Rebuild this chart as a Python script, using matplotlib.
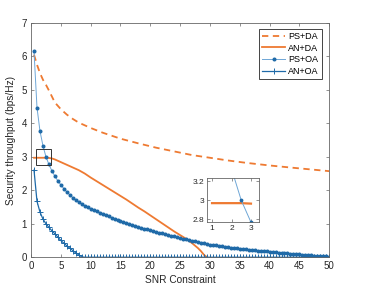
import numpy as np
import matplotlib
matplotlib.use('Agg')
import matplotlib.pyplot as plt
from matplotlib.patches import Rectangle

# ─── Data ─────────────────────────────────────────────────────────────────────

snr_grid = np.arange(1, 101) * 0.5   # 0.5 ... 50

ps_da_x = [0.5, 1, 1.5, 2, 2.5, 3, 4, 5, 6, 7, 8, 10, 12, 15, 18, 21, 24,
           27, 30, 33, 36, 40, 44, 47, 50]
ps_da_y = [6.05, 5.75, 5.50, 5.30, 5.15, 4.98, 4.62, 4.42, 4.26, 4.13, 4.02,
           3.86, 3.72, 3.54, 3.40, 3.27, 3.16, 3.05, 2.97, 2.89, 2.82, 2.74,
           2.67, 2.62, 2.57]

an_da_x = [0.5, 1, 1.5, 2, 2.5, 3, 3.5, 4, 5, 6, 7, 8, 9, 10, 11, 12, 13, 14,
           15, 16, 17, 18, 19, 20, 21, 22, 23, 24, 25, 26, 27, 28, 28.5, 29,
           29.5]
an_da_y = [2.97, 2.97, 2.97, 2.97, 2.97, 2.965, 2.95, 2.92, 2.84, 2.76, 2.68,
           2.60, 2.50, 2.38, 2.27, 2.16, 2.05, 1.94, 1.83, 1.72, 1.60, 1.48,
           1.37, 1.25, 1.13, 1.01, 0.89, 0.77, 0.66, 0.55, 0.42, 0.27, 0.18,
           0.07, 0.0]

ps_oa_y = [6.15, 4.47, 3.77, 3.33, 3.00, 2.77, 2.58, 2.42, 2.28, 2.16,
           2.05, 1.95, 1.86, 1.78, 1.71, 1.65, 1.59, 1.54, 1.49, 1.45,
           1.41, 1.37, 1.33, 1.29, 1.25, 1.22, 1.18, 1.15, 1.11, 1.08,
           1.05, 1.02, 0.99, 0.96, 0.94, 0.91, 0.88, 0.85, 0.83, 0.80,
           0.78, 0.75, 0.73, 0.71, 0.68, 0.66, 0.64, 0.62, 0.59, 0.57,
           0.55, 0.53, 0.51, 0.49, 0.47, 0.45, 0.43, 0.41, 0.39, 0.37,
           0.36, 0.35, 0.33, 0.32, 0.31, 0.30, 0.29, 0.28, 0.27, 0.26,
           0.25, 0.24, 0.23, 0.22, 0.21, 0.20, 0.19, 0.18, 0.175, 0.17,
           0.16, 0.15, 0.14, 0.135, 0.13, 0.12, 0.11, 0.10, 0.095, 0.09,
           0.08, 0.07, 0.065, 0.06, 0.05, 0.045, 0.04, 0.035, 0.03, 0.02]

an_oa_y = [2.60, 1.67, 1.35, 1.14, 1.00, 0.89, 0.79, 0.70, 0.60, 0.50,
           0.42, 0.34, 0.27, 0.20, 0.13, 0.07, 0.01, 0, 0, 0,
           0, 0, 0, 0, 0, 0, 0, 0, 0, 0,
           0, 0, 0, 0, 0, 0, 0, 0, 0, 0,
           0, 0, 0, 0, 0, 0, 0, 0, 0, 0,
           0, 0, 0, 0, 0, 0, 0, 0, 0, 0,
           0, 0, 0, 0, 0, 0, 0, 0, 0, 0,
           0, 0, 0, 0, 0, 0, 0, 0, 0, 0,
           0, 0, 0, 0, 0, 0, 0, 0, 0, 0,
           0, 0, 0, 0, 0, 0, 0, 0, 0, 0]

labels = ['PS+DA', 'AN+DA', 'PS+OA', 'AN+OA']

# ─── Style ────────────────────────────────────────────────────────────────────

ORANGE = '#ee7a32'
BLUE = '#1f6aa8'
LIGHT_BLUE = '#6ea6d6'
AXIS = '#666666'
TEXT = '#262626'

plt.rcParams.update({
    'font.family': ['Liberation Sans', 'DejaVu Sans'],
    'font.size': 7,
    'axes.edgecolor': AXIS,
    'axes.linewidth': 0.6,
    'xtick.color': AXIS,
    'ytick.color': AXIS,
    'xtick.labelcolor': TEXT,
    'ytick.labelcolor': TEXT,
    'xtick.direction': 'in',
    'ytick.direction': 'in',
    'xtick.major.width': 0.5,
    'ytick.major.width': 0.5,
    'xtick.major.size': 2.5,
    'ytick.major.size': 2.5,
})


def draw_series(ax):
    ax.plot(ps_da_x, ps_da_y, color=ORANGE, lw=1.3, ls=(0, (3.5, 2.5)),
            label=labels[0])
    ax.plot(an_da_x, an_da_y, color=ORANGE, lw=1.3, label=labels[1])
    ax.plot(snr_grid, ps_oa_y, color=LIGHT_BLUE, lw=0.7, marker='.',
            ms=3.8, mfc=BLUE, mec=BLUE, label=labels[2])
    ax.plot(snr_grid, an_oa_y, color=BLUE, lw=0.9, marker='+', ms=4.5,
            mew=0.7, label=labels[3])


fig = plt.figure(figsize=(3.65, 2.89), dpi=100)
ax = fig.add_axes([0.085, 0.110, 0.817, 0.811])
draw_series(ax)

ax.set_xlim(0, 50)
ax.set_ylim(0, 7)
ax.set_xticks(np.arange(0, 51, 5))
ax.set_yticks(np.arange(0, 8, 1))
ax.tick_params(top=True, right=True, pad=3)
ax.set_xlabel('SNR Constraint', color=TEXT, fontsize=7.3, labelpad=2.5)
ax.set_ylabel('Security throughput (bps/Hz)', color=TEXT, fontsize=7.3,
              labelpad=4)

leg = ax.legend(loc='upper right', bbox_to_anchor=(0.975, 0.975),
                borderaxespad=0, fancybox=False, edgecolor=TEXT,
                framealpha=1, fontsize=6.5, handlelength=2.6,
                borderpad=0.35, labelspacing=0.3, handletextpad=0.3)
leg.get_frame().set_linewidth(0.6)

# zoom box
ax.add_patch(Rectangle((0.8, 2.75), 2.55, 0.47, fill=False,
                       edgecolor='#333333', lw=0.7, zorder=5))

# inset
axi = fig.add_axes([0.566, 0.231, 0.144, 0.152])
axi.plot(an_da_x[1:6], an_da_y[1:6], color=ORANGE, lw=1.6)
axi.plot(snr_grid, ps_oa_y, color=LIGHT_BLUE, lw=0.7, marker='.',
         ms=3.5, mfc=BLUE, mec=BLUE)
axi.set_xlim(0.72, 3.42)
axi.set_ylim(2.77, 3.23)
axi.set_xticks([1, 2, 3])
axi.set_yticks([2.8, 3, 3.2])
axi.set_yticklabels(['2.8', '3', '3.2'])
axi.tick_params(top=True, right=True, labelsize=6, pad=2)

fig.savefig('out.png', dpi=100)
